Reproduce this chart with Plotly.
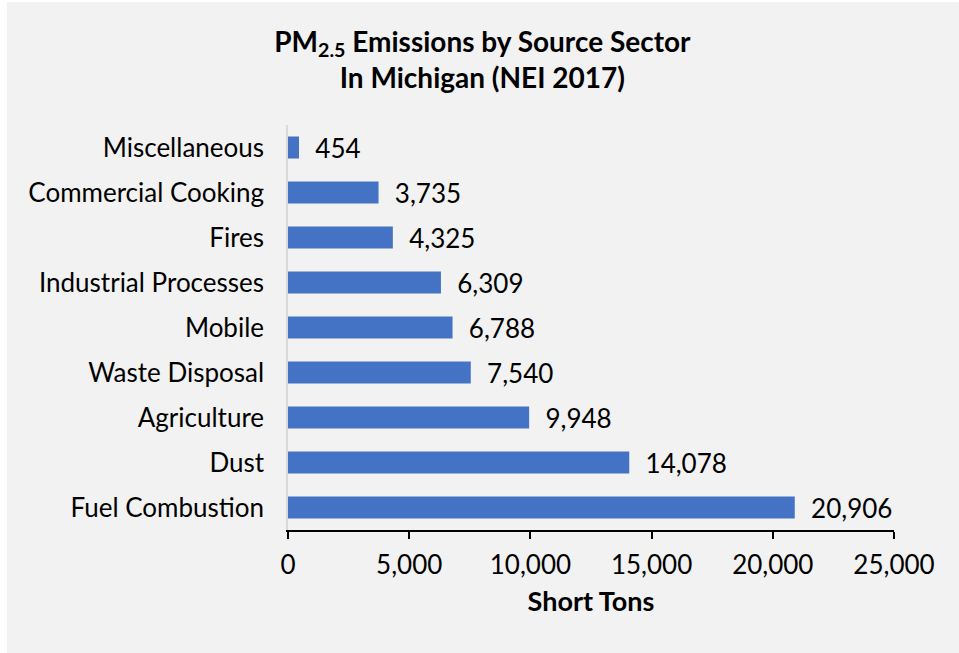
import plotly.graph_objects as go

sectors = ["Fuel Combustion", "Dust", "Agriculture", "Waste Disposal", "Mobile",
           "Industrial Processes", "Fires", "Commercial Cooking", "Miscellaneous"]
short_tons = [20906, 14078, 9948, 7540, 6788, 6309, 4325, 3735, 454]
x_ticks = [0, 5000, 10000, 15000, 20000, 25000]

FONT = "Lato, Noto Sans, sans-serif"

fig = go.Figure(go.Bar(
    y=sectors, x=short_tons, orientation="h",
    marker=dict(color="#4472c4", line=dict(width=0)),
    width=0.49,
    text=[f"{v:,}" for v in short_tons],
    texttemplate="  %{text}",
    textposition="outside",
    constraintext="none",
    textfont=dict(size=26, color="#000000", family=FONT),
    cliponaxis=False,
))

fig.update_layout(
    width=959, height=653,
    margin=dict(l=288, r=65, t=125, b=123, autoexpand=False),
    paper_bgcolor="#f2f2f2", plot_bgcolor="#f2f2f2",
    font=dict(family=FONT, color="#000000", size=26),
    title=dict(
        text="<b>PM<sub>2.5</sub> Emissions by Source Sector<br>In Michigan (NEI 2017)</b>",
        x=0.503, xanchor="center", y=0.921, yanchor="top",
        font=dict(size=28, family=FONT, color="#000000"),
    ),
    showlegend=False,
    shapes=[dict(type="rect", xref="paper", yref="paper",
                 x0=-0.5, x1=-0.4637, y0=-0.4, y1=1.4,
                 fillcolor="white", line=dict(width=0), layer="above"),
            dict(type="rect", xref="paper", yref="paper",
                 x0=-0.5, x1=1.2, y0=1.304, y1=1.4,
                 fillcolor="white", line=dict(width=0), layer="above")],
)

fig.update_xaxes(
    range=[0, 25000], tickvals=x_ticks, tickformat=",d",
    showgrid=False, zeroline=False,
    showline=True, linecolor="#000000", linewidth=2,
    ticks="outside", ticklen=7, tickwidth=2, tickcolor="#000000",
    tickfont=dict(size=26), ticklabelstandoff=4,
    title=dict(text="<b>Short Tons</b>", font=dict(size=27), standoff=13),
)
fig.update_yaxes(
    showgrid=False, zeroline=False,
    showline=True, linecolor="#d9d9d9", linewidth=1.5,
    ticks="", tickfont=dict(size=26), ticklabelstandoff=17,
)

fig.write_html("out.html",
               config={"displayModeBar": False},
               post_script="document.body.style.margin='0';document.body.style.overflow='hidden';")
